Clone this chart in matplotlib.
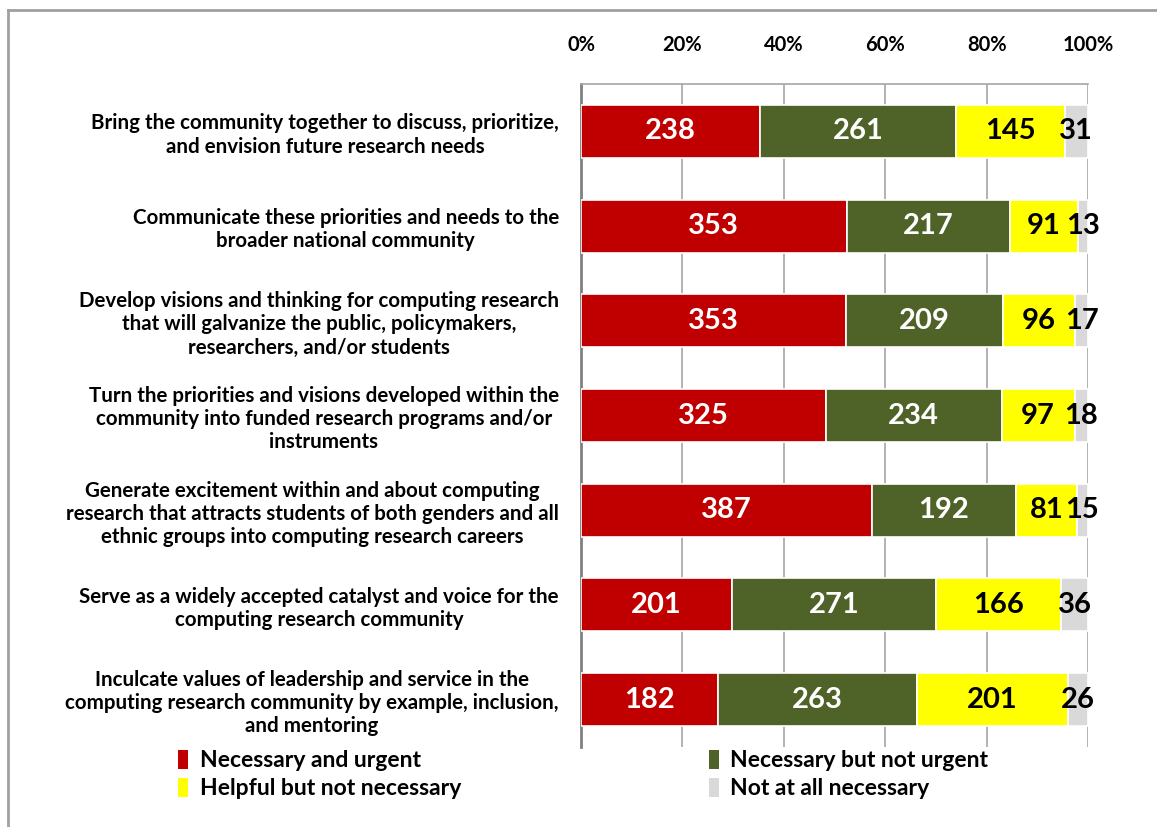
import numpy as np
import matplotlib.pyplot as plt
from matplotlib.patches import Patch
from matplotlib.lines import Line2D

plt.rcParams['font.family'] = ['Lato', 'DejaVu Sans']
plt.rcParams['font.weight'] = 'bold'

# Survey items (top to bottom)
items = [
    "Bring the community together to discuss, prioritize,\nand envision future research needs",
    "Communicate these priorities and needs to the\nbroader national community",
    "Develop visions and thinking for computing research\nthat will galvanize the public, policymakers,\nresearchers, and/or students",
    "Turn the priorities and visions developed within the\ncommunity into funded research programs and/or\ninstruments",
    "Generate excitement within and about computing\nresearch that attracts students of both genders and all\nethnic groups into computing research careers",
    "Serve as a widely accepted catalyst and voice for the\ncomputing research community",
    "Inculcate values of leadership and service in the\ncomputing research community by example, inclusion,\nand mentoring",
]

series_names = ["Necessary and urgent", "Necessary but not urgent",
                "Helpful but not necessary", "Not at all necessary"]
urgent = [238, 353, 353, 325, 387, 201, 182]
not_urgent = [261, 217, 209, 234, 192, 271, 263]
helpful = [145, 91, 96, 97, 81, 166, 201]
not_needed = [31, 13, 17, 18, 15, 36, 26]

colors = ['#C00000', '#4F6228', '#FFFF00', '#D9D9D9']
label_colors = ['white', 'white', 'black', 'black']
tick_pct = [0, 20, 40, 60, 80, 100]

counts = np.array([urgent, not_urgent, helpful, not_needed], dtype=float)
shares = counts / counts.sum(axis=0) * 100

fig = plt.figure(figsize=(11.57, 8.27), dpi=100)
ax = fig.add_axes([0.5022, 0.0967, 0.4382, 0.8017])

y = np.arange(len(items))
left = np.zeros(len(items))
for k in range(4):
    ax.barh(y, shares[k], left=left, height=0.56, color=colors[k],
            edgecolor='white', linewidth=1.2, zorder=3)
    for i in range(len(items)):
        ax.text(left[i] + shares[k][i] / 2, y[i], f"{int(counts[k][i])}",
                ha='center', va='center', fontsize=21, fontweight='bold',
                color=label_colors[k], zorder=4)
    left += shares[k]

ax.set_xlim(0, 100)
ax.set_ylim(len(items) - 0.5, -0.5)
ax.set_xticks(tick_pct)
ax.set_xticklabels([f"{t}%" for t in tick_pct], fontsize=14.5, fontweight='bold')
ax.xaxis.tick_top()
ax.tick_params(axis='x', length=0, pad=21)
ax.set_yticks(y)
ax.set_yticklabels(items, fontsize=14.8, fontweight='bold', multialignment='center')
ax.tick_params(axis='y', length=0, pad=16)
ax.grid(axis='x', color='#A6A6A6', linewidth=1.2, zorder=0)
for s in ['right', 'bottom']:
    ax.spines[s].set_visible(False)
ax.spines['left'].set_color('#808080')
ax.spines['left'].set_linewidth(2)
ax.spines['top'].set_color('#A6A6A6')
ax.spines['top'].set_linewidth(1.2)

handles = [Patch(facecolor=c, edgecolor='none') for c in colors]
order = [0, 2, 1, 3]
fig.legend([handles[i] for i in order], [series_names[i] for i in order],
           ncol=2, loc='lower left', bbox_to_anchor=(0.136, 0.0084),
           frameon=False, handlelength=0.45, handleheight=0.9,
           handletextpad=0.5, columnspacing=10.8, labelspacing=0.3,
           prop={'weight': 'bold', 'size': 16.5})

# outer frame (top and left edges visible)
fig.add_artist(Line2D([8 / 1157, 8 / 1157], [0, 1 - 10 / 827],
                      transform=fig.transFigure, color='#A0A0A0', linewidth=2))
fig.add_artist(Line2D([8 / 1157, 1], [1 - 10 / 827, 1 - 10 / 827],
                      transform=fig.transFigure, color='#A0A0A0', linewidth=2))

fig.savefig('out.png', dpi=100)
